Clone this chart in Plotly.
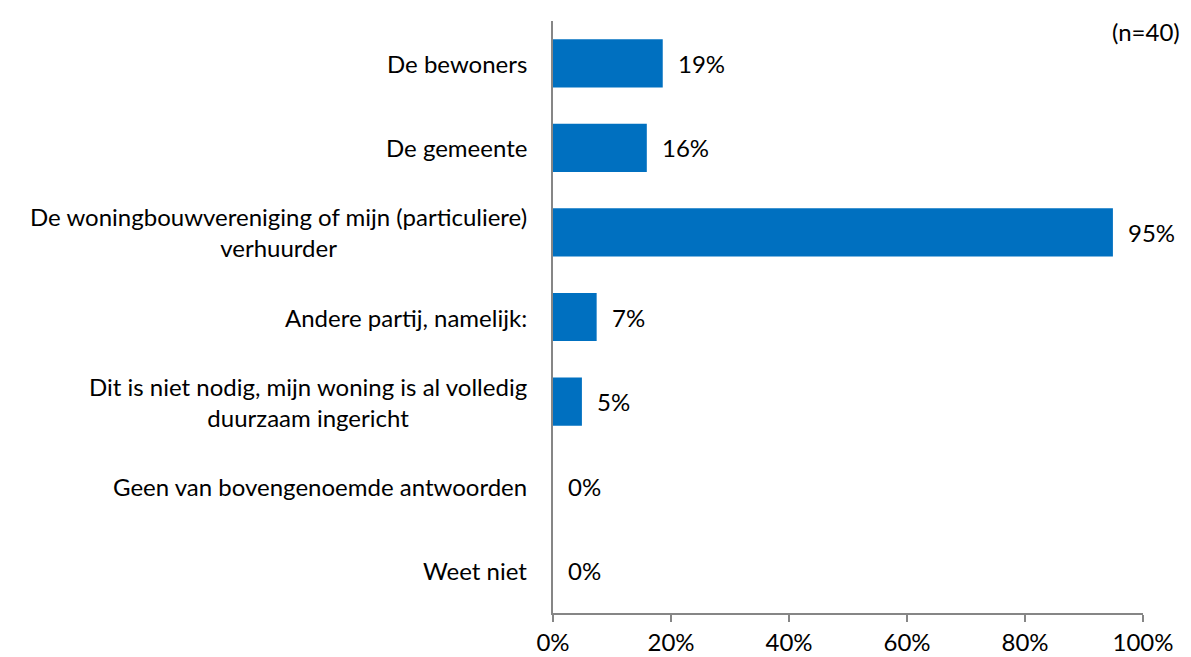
import plotly.graph_objects as go

categories = [
    "De bewoners",
    "De gemeente",
    "De woningbouwvereniging of mijn (particuliere)<br>verhuurder",
    "Andere partij, namelijk:",
    "Dit is niet nodig, mijn woning is al volledig<br>duurzaam ingericht",
    "Geen van bovengenoemde antwoorden",
    "Weet niet",
]
values = [18.6, 15.9, 94.9, 7.4, 4.9, 0, 0]
value_labels = ["19%", "16%", "95%", "7%", "5%", "0%", "0%"]
tick_vals = [0, 20, 40, 60, 80, 100]
tick_text = ["0%", "20%", "40%", "60%", "80%", "100%"]

BAR = "#0070C0"
AXIS = "#868686"
FONT = "Lato, Carlito, Calibri, sans-serif"
SIZE = 24

fig = go.Figure()
fig.add_trace(
    go.Bar(
        x=values,
        y=categories,
        orientation="h",
        marker={"color": BAR, "line": {"width": 0}},
        width=0.57,
        hoverinfo="skip",
    )
)

# value labels, a bit away from the bar end
for cat, v, lab in zip(categories, values, value_labels):
    fig.add_annotation(
        x=v, xref="x", y=cat, yref="y",
        text=lab, showarrow=False,
        xanchor="left", xshift=13,
        font={"size": SIZE, "color": "#000000", "family": FONT},
    )

# category labels as annotations so the wrapped ones stay centred
for cat in categories:
    fig.add_annotation(
        x=0, xref="paper", y=cat, yref="y",
        text=cat, showarrow=False,
        xanchor="right", xshift=-24, align="center",
        font={"size": SIZE, "color": "#000000", "family": FONT},
    )

fig.add_annotation(
    x=1, xref="paper", y=1, yref="paper",
    text="(n=40)", showarrow=False,
    xanchor="right", yanchor="top", xshift=39, yshift=6,
    font={"size": SIZE, "color": "#000000", "family": FONT},
)

fig.update_layout(
    width=1191,
    height=657,
    margin={"l": 553, "r": 48, "t": 21, "b": 44, "autoexpand": False},
    plot_bgcolor="white",
    paper_bgcolor="white",
    showlegend=False,
    font={"family": FONT, "size": SIZE, "color": "#000000"},
    xaxis={
        "range": [0, 100],
        "tickvals": tick_vals,
        "ticktext": tick_text,
        "showgrid": False,
        "zeroline": False,
        "showline": True,
        "linecolor": AXIS,
        "linewidth": 2,
        "ticks": "outside",
        "ticklen": 7,
        "tickcolor": AXIS,
        "tickwidth": 2,
        "tickfont": {"size": SIZE, "family": FONT},
        "automargin": False,
        "fixedrange": True,
    },
    yaxis={
        "autorange": "reversed",
        "showticklabels": False,
        "showgrid": False,
        "zeroline": False,
        "showline": True,
        "linecolor": AXIS,
        "linewidth": 2,
        "ticks": "",
        "automargin": False,
        "fixedrange": True,
    },
)

fig.write_html(
    "out.html",
    config={"displayModeBar": False},
    post_script="document.body.style.margin='0';",
)
